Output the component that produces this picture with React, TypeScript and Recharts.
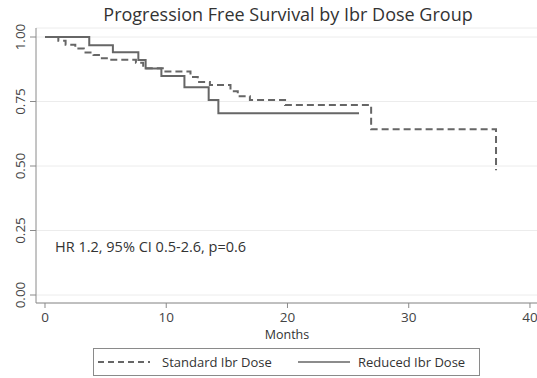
import React from "react";
import { LineChart, Line, XAxis, YAxis, CartesianGrid } from "recharts";

const standardMonths = [0, 1.1, 1.7, 2.5, 3.2, 4.0, 4.6, 5.1, 7.5, 8.1, 9.8, 12.0, 12.6, 13.6, 15.3, 15.9, 16.9, 19.8, 26.9, 37.2];
const standardSurv = [1.0, 0.985, 0.97, 0.955, 0.94, 0.93, 0.918, 0.912, 0.9, 0.879, 0.866, 0.845, 0.826, 0.814, 0.79, 0.77, 0.756, 0.736, 0.642, 0.484];

const reducedMonths = [0, 3.65, 5.6, 7.7, 8.3, 9.6, 11.5, 13.5, 14.3, 25.9];
const reducedSurv = [1.0, 0.968, 0.941, 0.911, 0.878, 0.849, 0.805, 0.756, 0.704, 0.704];

const xTicks = [0, 10, 20, 30, 40];
const yTicks = [0, 0.25, 0.5, 0.75, 1.0];

const title = "Progression Free Survival by Ibr Dose Group";
const annotation = "HR 1.2, 95% CI 0.5-2.6, p=0.6";
const xLabel = "Months";
const standardName = "Standard Ibr Dose";
const reducedName = "Reduced Ibr Dose";

const standardData = standardMonths.map((m, i) => ({ m, s: standardSurv[i] }));
const reducedData = reducedMonths.map((m, i) => ({ m, s: reducedSurv[i] }));

const FONT = "'Open Sans', 'DejaVu Sans', sans-serif";
const LINE = "#666666";

const YTick = (props: any) => {
  const { y, payload } = props;
  const x = 25;
  return (
    <text
      x={x}
      y={y}
      transform={`rotate(-90 ${x} ${y})`}
      textAnchor="middle"
      fontSize={13.5}
      fontFamily={FONT}
      fill="#444"
    >
      {payload.value.toFixed(2)}
    </text>
  );
};

export default function App() {
  return (
    <div style={{ position: "absolute", left: 0, top: 0, width: 537, height: 378, background: "#fff" }}>
      <LineChart
        width={537}
        height={378}
        margin={{ top: 28, right: 0, left: 0, bottom: 0 }}
        style={{ position: "absolute", left: 0, top: 0 }}
      >
        <CartesianGrid vertical={false} stroke="#ececec" strokeWidth={1} />
        <XAxis
          type="number"
          dataKey="m"
          domain={[-0.742, 40.58]}
          allowDataOverflow
          ticks={xTicks}
          height={75}
          stroke="#8a8a8a"
          tickSize={5}
          tickMargin={4}
          tick={{ fontSize: 13.5, fontFamily: FONT, fill: "#444" }}
        />
        <YAxis
          type="number"
          dataKey="s"
          domain={[-0.031, 1.0349]}
          allowDataOverflow
          ticks={yTicks}
          width={36}
          stroke="#8a8a8a"
          tickSize={6}
          tick={<YTick />}
        />
        <Line
          data={standardData}
          dataKey="s"
          type="stepAfter"
          stroke={LINE}
          strokeWidth={2}
          strokeDasharray="7 4"
          dot={false}
          isAnimationActive={false}
        />
        <Line
          data={reducedData}
          dataKey="s"
          type="stepAfter"
          stroke={LINE}
          strokeWidth={2}
          dot={false}
          isAnimationActive={false}
        />
      </LineChart>
      <svg width={537} height={378} style={{ position: "absolute", left: 0, top: 0, pointerEvents: "none" }}>
        <text x={288} y={21} textAnchor="middle" fontSize={18} fontFamily={FONT} fill="#333">
          {title}
        </text>
        <text x={55} y={252} fontSize={14.5} fontFamily={FONT} fill="#333">
          {annotation}
        </text>
        <text x={287} y={339} textAnchor="middle" fontSize={12.5} fontFamily={FONT} fill="#333">
          {xLabel}
        </text>
        <rect x={93.5} y={348.5} width={386} height={27} fill="#fff" stroke="#8a8a8a" strokeWidth={1} />
        <line x1={98} y1={362} x2={150} y2={362} stroke={LINE} strokeWidth={2} strokeDasharray="6 4" />
        <text x={162} y={367} fontSize={13} fontFamily={FONT} fill="#333">
          {standardName}
        </text>
        <line x1={298} y1={362} x2={350} y2={362} stroke={LINE} strokeWidth={1.5} />
        <text x={358} y={367} fontSize={13} fontFamily={FONT} fill="#333">
          {reducedName}
        </text>
      </svg>
    </div>
  );
}
